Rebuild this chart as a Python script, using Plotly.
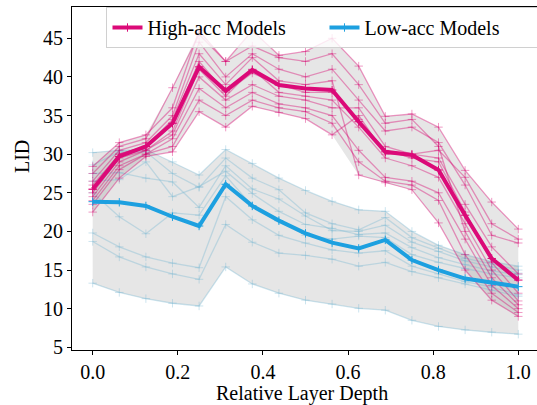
import plotly.graph_objects as go

depth = [i / 16 for i in range(17)]

high_mean = [25.45, 29.7, 31.0, 34.0, 41.3, 38.2, 40.9, 38.95, 38.5, 38.3, 34.2, 30.3, 29.9, 27.95, 22.1, 16.5, 13.7]
low_mean = [23.85, 23.77, 23.3, 21.9, 20.7, 26.1, 23.3, 21.4, 19.75, 18.55, 17.8, 18.9, 16.3, 15.0, 13.9, 13.4, 12.85]

high_models = [
    [28.4, 31.5, 32.5, 36.0, 46.0, 42.0, 46.0, 42.8, 43.3, 45.0, 41.4, 34.9, 35.2, 33.5, 27.9, 23.8, 20.3],
    [27.5, 31.0, 32.0, 38.6, 45.5, 42.0, 44.0, 42.5, 42.0, 43.0, 39.0, 34.0, 34.5, 31.0, 20.0, 14.0, 10.5],
    [26.5, 30.5, 31.5, 35.0, 44.5, 40.0, 43.0, 41.0, 40.0, 41.0, 37.0, 33.0, 33.5, 31.5, 26.0, 19.5, 18.5],
    [26.0, 30.0, 31.0, 34.5, 43.0, 39.0, 42.5, 39.5, 39.0, 39.5, 27.3, 26.3, 25.4, 21.1, 15.0, 11.1, 9.0],
    [25.5, 30.0, 31.0, 34.0, 42.0, 38.0, 40.5, 39.0, 38.0, 38.0, 34.5, 30.5, 29.5, 29.0, 22.5, 16.0, 12.0],
    [25.0, 29.5, 30.5, 33.0, 41.0, 37.5, 41.0, 38.0, 37.5, 37.0, 33.5, 29.5, 28.5, 27.0, 21.0, 15.0, 11.0],
    [24.5, 29.0, 30.5, 32.5, 40.0, 37.0, 39.0, 37.5, 37.0, 36.0, 36.0, 31.0, 30.0, 30.5, 27.0, 21.0, 19.0],
    [24.0, 28.5, 30.0, 32.0, 38.5, 36.0, 38.0, 36.5, 36.0, 35.0, 30.5, 27.0, 26.5, 25.0, 19.0, 13.0, 10.0],
    [23.5, 28.0, 30.0, 31.0, 37.0, 35.0, 37.0, 36.0, 35.5, 34.0, 29.0, 26.5, 26.0, 24.0, 17.0, 12.0, 9.5],
    [22.5, 26.9, 29.7, 30.3, 35.5, 33.5, 36.2, 35.4, 34.6, 32.5, 35.0, 30.0, 30.0, 29.5, 23.5, 18.0, 14.5],
]

low_models = [
    [30.2, 30.5, 30.6, 29.0, 27.3, 30.6, 28.8, 26.9, 25.3, 23.9, 22.8, 22.6, 20.0, 18.2, 17.0, 16.1, 15.5],
    [28.6, 30.3, 30.3, 27.5, 25.7, 29.5, 26.9, 25.4, 22.4, 21.0, 20.2, 21.8, 19.2, 17.8, 16.5, 15.8, 15.0],
    [27.5, 27.6, 26.9, 26.4, 23.1, 28.5, 25.5, 24.2, 22.0, 20.1, 20.0, 20.8, 18.6, 17.4, 16.2, 15.4, 14.6],
    [26.5, 26.7, 29.0, 24.5, 25.8, 27.8, 24.9, 22.6, 20.9, 20.4, 19.6, 19.8, 17.9, 16.6, 15.7, 14.9, 14.4],
    [25.0, 21.9, 19.7, 22.4, 22.1, 27.2, 23.3, 21.4, 19.5, 19.0, 19.4, 19.2, 17.0, 16.0, 15.2, 14.5, 14.0],
    [19.8, 18.0, 16.7, 15.9, 15.3, 24.5, 21.5, 19.5, 18.5, 17.6, 17.2, 17.5, 15.5, 14.5, 13.5, 12.8, 11.8],
    [18.7, 16.7, 15.4, 14.5, 13.8, 20.9, 18.6, 17.2, 16.9, 16.4, 15.5, 16.0, 14.8, 14.0, 13.2, 12.4, 11.6],
    [13.3, 12.1, 11.3, 10.7, 10.35, 15.4, 13.2, 12.0, 11.1, 10.6, 10.05, 9.8, 8.5, 7.7, 7.25, 6.95, 6.7],
]

x_ticks = [0.0, 0.2, 0.4, 0.6, 0.8, 1.0]
y_ticks = [5, 10, 15, 20, 25, 30, 35, 40, 45]

HIGH = "#DB0A78"
LOW = "#1DA0E0"
HIGH_THIN = "rgba(214,0,111,0.4)"
LOW_THIN = "rgba(120,185,210,0.38)"
FILL = "rgba(128,128,128,0.2)"
FONT = "Liberation Serif, Times New Roman, Times, serif"

fig = go.Figure()

def add_band(models):
    upper = [max(v) for v in zip(*models)]
    lower = [min(v) for v in zip(*models)]
    fig.add_trace(go.Scatter(x=depth, y=upper, mode="lines", line=dict(width=0),
                             showlegend=False, hoverinfo="skip"))
    fig.add_trace(go.Scatter(x=depth, y=lower, mode="lines", line=dict(width=0),
                             fill="tonexty", fillcolor=FILL, showlegend=False, hoverinfo="skip"))

add_band(low_models)
add_band(high_models)

for m in low_models:
    fig.add_trace(go.Scatter(x=depth, y=m, mode="lines+markers",
                             line=dict(color=LOW_THIN, width=1.3),
                             marker=dict(symbol="cross-thin", size=6, line=dict(color=LOW_THIN, width=1)),
                             showlegend=False))
for m in high_models:
    fig.add_trace(go.Scatter(x=depth, y=m, mode="lines+markers",
                             line=dict(color=HIGH_THIN, width=1.3),
                             marker=dict(symbol="cross-thin", size=6, line=dict(color=HIGH_THIN, width=1)),
                             showlegend=False))

fig.add_trace(go.Scatter(x=depth, y=high_mean, mode="lines+markers", name="High-acc Models",
                         line=dict(color=HIGH, width=4),
                         marker=dict(symbol="cross-thin", size=6, color=HIGH, line=dict(color=HIGH, width=1))))
fig.add_trace(go.Scatter(x=depth, y=low_mean, mode="lines+markers", name="Low-acc Models",
                         line=dict(color=LOW, width=4),
                         marker=dict(symbol="cross-thin", size=6, color=LOW, line=dict(color=LOW, width=1))))

fig.update_layout(
    width=537, height=405,
    margin=dict(l=72, r=0, t=7, b=55, autoexpand=False),
    paper_bgcolor="white", plot_bgcolor="white",
    font=dict(family=FONT, size=20, color="black"),
    showlegend=True,
    legend=dict(orientation="h", x=0.543, y=1.0, xanchor="center", yanchor="top",
                traceorder="normal", entrywidth=172,
                bgcolor="rgba(255,255,255,0.8)", bordercolor="#d0d0d0", borderwidth=1,
                font=dict(family=FONT, size=20), itemwidth=30),
    annotations=[
        dict(text="LID", xref="paper", yref="paper", x=-0.1075, y=0.5627, textangle=-90,
             showarrow=False, xanchor="center", yanchor="middle", font=dict(family=FONT, size=20)),
        dict(text="Relative Layer Depth", xref="paper", yref="paper", x=0.494, y=-0.1254,
             showarrow=False, xanchor="center", yanchor="middle", font=dict(family=FONT, size=20)),
    ],
)
fig.update_xaxes(range=[-0.0486, 1.0439], tickvals=x_ticks, ticktext=[f"{v:.1f}" for v in x_ticks],
                 showline=True, linecolor="black", linewidth=1, mirror=True,
                 ticks="outside", ticklen=4, tickcolor="black", showgrid=False, zeroline=False)
fig.update_yaxes(range=[4.65, 49.05], tickvals=y_ticks,
                 showline=True, linecolor="black", linewidth=1,
                 ticks="outside", ticklen=4, tickcolor="black", showgrid=False, zeroline=False)

fig.write_html("out.html", config={"displayModeBar": False},
               post_script="document.body.style.margin='0px';document.body.style.padding='0px';")
